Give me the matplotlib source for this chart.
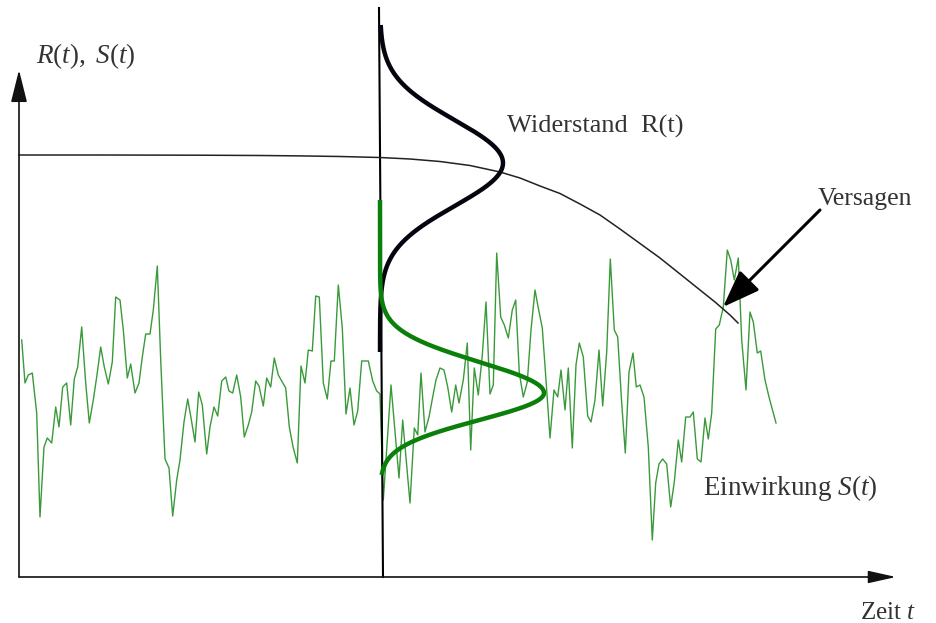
import numpy as np
import matplotlib.pyplot as plt
from matplotlib.patches import ArrowStyle

plt.rcParams['font.family'] = ['Liberation Serif', 'DejaVu Serif']
plt.rcParams['mathtext.fontset'] = 'custom'
plt.rcParams['mathtext.rm'] = 'Liberation Serif'
plt.rcParams['mathtext.it'] = 'Liberation Serif:italic'

# coordinates (x = time, y = value, y grows downward)
signal_t = [21.7, 25, 28.3, 32.3, 36.7, 40, 44, 47.3, 51.7, 55.7, 59, 62.7, 66.7, 70.7,
            74.3, 77.7, 81.7, 85.7, 89.3, 93.3, 96.7, 100.7, 104.3, 108.3, 112.3, 115.7,
            120, 123.3, 127.3, 130.7, 135, 139, 142.3, 145.7, 150, 153.3, 157.3, 160.7,
            165, 169, 172.7, 176.7, 180, 184, 187.7, 191.7, 195, 198.7, 202.3, 206.7,
            210, 214, 217.7, 221.7, 225.7, 229, 232.7, 236.7, 240.7, 244.3, 248.3, 251.7,
            255.7, 259, 263.3, 266.7, 270.7, 274.3, 278.3, 282.3, 285.7, 289.3, 293.3,
            297.3, 301, 305, 308.3, 312.3, 315.7, 319.3, 323.3, 327.3, 331, 334.3, 338.3,
            342.3, 346, 350, 354, 357.7, 361.7, 368.3, 372.7, 376.7, 380, 383.3, 391,
            399, 402.7, 410, 414.3, 417.7, 421, 425, 429, 432.7, 436, 440, 444, 447.7,
            451.7, 455.7, 459, 463.3, 467.3, 470.7, 474.3, 478.3, 482.3, 486, 490, 493.3,
            496.7, 500.7, 504.3, 508.3, 512.3, 515.7, 519.3, 523.3, 527.3, 531, 535,
            538.3, 542.3, 546, 550, 554, 557.7, 561, 565, 568.3, 572.3, 576, 579.3,
            583.3, 587.7, 591, 595, 599, 602.7, 606.7, 610.3, 614.3, 617.7, 621.7, 625.3,
            629, 633, 636.3, 640, 644, 648.3, 652.3, 655.7, 659, 662.7, 666.7, 670.7,
            674.3, 678.3, 681.7, 685.7, 690, 693.3, 697.3, 701, 705, 708.3, 711.7, 715.7,
            719.3, 723.3, 727.3, 730.7, 734.3, 738.3, 741.7, 746, 750, 753.3, 757.3,
            760.7, 765, 769, 776]
signal_s = [340, 383, 375, 373, 413, 517, 447, 438, 443, 407, 427, 387, 383, 425,
            379, 367, 327, 383, 423, 400, 377, 347, 367, 384, 362, 297,
            300, 330, 378, 364, 393, 383, 357, 334, 334, 310, 266, 360,
            459, 468, 516, 480, 460, 422, 399, 422, 442, 392, 405, 454,
            427, 407, 416, 381, 377, 391, 393, 375, 397, 437, 425, 412,
            381, 386, 406, 378, 387, 358, 375, 382, 388, 427, 448,
            463, 366, 383, 350, 351, 296, 297, 383, 399, 361, 361, 285,
            328, 414, 388, 425, 411, 361, 361, 381, 391, 394, 500, 385,
            478, 420, 503, 428, 435, 373, 432, 417, 397, 380, 368, 370, 387,
            412, 385, 403, 380, 343, 450, 368, 395, 355, 302, 394, 385,
            253, 317, 325, 338, 310, 300, 373, 397, 382, 330, 290,
            308, 328, 380, 438, 390, 397, 370, 410, 368, 448, 365, 343,
            357, 416, 422, 400, 350, 406, 352, 259, 330, 337, 403, 453,
            372, 353, 387, 385, 397, 447, 540, 483, 464, 459, 464, 507,
            482, 440, 462, 417, 417, 412, 459, 462, 418, 439, 413, 329,
            325, 307, 250, 260, 280, 258, 340, 390, 312, 322, 353,
            351, 380, 397, 423]

resist_t = [19, 100, 200, 260, 300, 340, 380, 410, 440, 470, 500, 520, 540, 560,
            580, 600, 620, 640, 660, 680, 700, 715, 730, 738]
resist_r = [155, 155, 155.2, 155.5, 155.9, 156.5, 157.5, 159, 161.5, 165.5, 172, 178,
            186, 193.5, 204, 215, 229, 243.5, 258, 274, 290, 302, 315, 323]

# density sketches drawn on the vertical line at t0
t0 = 380
r_mean, r_sd, r_peak, r_lo, r_hi = 163, 43, 123, 25, 352
s_mean, s_sd_up, s_sd_down, s_peak, s_lo, s_hi = 393, 31, 27, 164, 200, 475

fig = plt.figure(figsize=(9.36, 6.23), dpi=100)
ax = fig.add_axes([0, 0, 1, 1])
ax.set_xlim(0, 936)
ax.set_ylim(623, 0)
ax.axis('off')

# load signal
ax.plot(signal_t, signal_s, color='#3a9a3a', lw=1.0, zorder=2)

# vertical line at t0
ax.plot([379, 383], [8, 577], color='black', lw=1.5, zorder=3)

# resistance density
y = np.linspace(r_lo, r_hi, 400)
ax.plot(t0 + r_peak * np.exp(-0.5 * ((y - r_mean) / r_sd) ** 2), y,
        color='#05050f', lw=3.2, solid_capstyle='butt', zorder=4)

# load density (slightly skewed)
y = np.linspace(s_lo, s_hi, 400)
sd = np.where(y < s_mean, s_sd_up, s_sd_down)
ax.plot(t0 + s_peak * np.exp(-0.5 * ((y - s_mean) / sd) ** 2), y,
        color='#0a800a', lw=3.2, solid_capstyle='butt', zorder=4)

# resistance over time
ax.plot(resist_t, resist_r, color='#222222', lw=1.1, zorder=3)

# axes arrows
ax.annotate('', xy=(19, 70), xytext=(19, 577),
            arrowprops=dict(arrowstyle=ArrowStyle('-|>', head_length=20, head_width=5),
                            mutation_scale=1, lw=1.2, color='#111111',
                            shrinkA=0, shrinkB=0))
ax.annotate('', xy=(896, 577), xytext=(19, 577),
            arrowprops=dict(arrowstyle=ArrowStyle('-|>', head_length=17, head_width=3.8),
                            mutation_scale=1, lw=1.2, color='#111111',
                            shrinkA=0, shrinkB=0))

# failure arrow
ax.annotate('', xy=(723, 307), xytext=(820, 210),
            arrowprops=dict(arrowstyle=ArrowStyle('-|>', head_length=23, head_width=8.5),
                            mutation_scale=1, lw=2.2, color='black',
                            shrinkA=0, shrinkB=0), zorder=5)

tc = '#333333'
ax.text(36, 63, r'$R(t),\ S(t)$', fontsize=19.5, color=tc, va='baseline', ha='left')
ax.text(507, 133, 'Widerstand  R(t)', fontsize=19, color=tc, va='baseline', ha='left')
ax.text(818, 205, 'Versagen', fontsize=18.5, color=tc, va='baseline', ha='left')
ax.text(703, 495, r'Einwirkung $S(t)$', fontsize=19.5, color=tc, va='baseline', ha='left')
ax.text(860, 619, r'Zeit $t$', fontsize=18, color=tc, va='baseline', ha='left')

fig.savefig('out.png', dpi=100)
